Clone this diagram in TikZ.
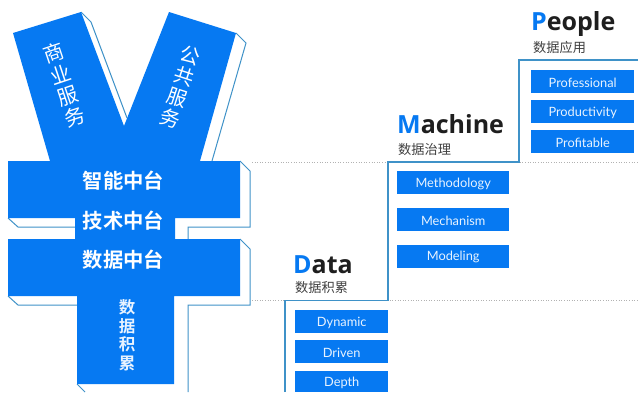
\documentclass[tikz,border=0pt]{standalone}
\usepackage{fontspec}
\setmainfont{Lato}
\newfontfamily\cjk{Noto Sans CJK SC}
\newfontfamily\cjkb{Noto Sans CJK SC Bold}
\newfontfamily\headf{Open Sans Bold}
\definecolor{ybl}{HTML}{0679F2}
\definecolor{edgebl}{HTML}{3F92C8}
\definecolor{inkk}{HTML}{1E1E1E}
\definecolor{txtw}{HTML}{E8F3FF}
\tikzset{
 yfill/.style={fill=ybl,draw=none},
 side/.style={draw=edgebl,line width=1pt,line join=miter},
 stair/.style={draw=edgebl,line width=1.2pt},
 dots/.style={draw=gray!60,line width=0.6pt,dotted},
 itembox/.style={fill=ybl,draw=none,anchor=north west,inner sep=0pt},
 itemtext/.style={text=txtw,inner sep=0pt,font=\fontsize{12.8}{14}\selectfont},
 headline/.style={anchor=base west,inner sep=0pt,text=inkk,font=\headf\fontsize{25}{27}\selectfont},
 subhead/.style={anchor=west,inner sep=0pt,text=inkk!85,font=\cjk\fontsize{13.2}{15}\selectfont},
 barlabel/.style={text=white,inner sep=0pt,font=\cjkb\fontsize{20.3}{22}\selectfont},
 armlabel/.style={text=white,inner sep=0pt,align=center,font=\cjk\fontsize{20.5}{22.5}\selectfont},
 stemlabel/.style={text=txtw,inner sep=0pt,align=center,font=\cjkb\fontsize{16.5}{18.5}\selectfont},
}
\newcommand{\itembx}[6]{\node[itembox,minimum width=#3pt,minimum height=#4pt] (#5) at (#1,#2) {};
 \node[itemtext,yshift=-0.8pt] (#5t) at (#5.center) {#6};}
\begin{document}
\begin{tikzpicture}[x=1pt,y=-1pt]
\useasboundingbox[fill=white] (0,0) rectangle (638,392);
% dotted guides
\draw[dots] (252,162) -- (638,162);
\draw[dots] (252,300.5) -- (638,300.5);
% stair
\draw[stair] (285,392) -- (285,300.5) -- (388,300.5) -- (388,162) -- (519,162) -- (519,60) -- (638,60);
% yen shadows
\draw[side] (81,12) -- (91,22) -- (127,118);
\draw[side] (236,33) -- (246,43) -- (212,161);
\draw[side] (240,161) -- (250,171) -- (250,227) -- (188,227) -- (188,239);
\draw[side] (8,218) -- (18,227) -- (75,227);
\draw[side] (240,239) -- (250,249) -- (250,305) -- (188,305) -- (188,392);
\draw[side] (8,296) -- (18,305) -- (77,305);
\draw[side] (77,384) -- (85,392);
% yen
\fill[yfill] (13,33) -- (81,12) -- (124,126) -- (169,12) -- (236,33) -- (200,161) -- (240,161) -- (240,218) -- (175,218) -- (175,239) -- (240,239) -- (240,296) -- (174,296) -- (174,384) -- (77,384) -- (77,296) -- (8,296) -- (8,239) -- (75,239) -- (75,218) -- (8,218) -- (8,161) -- (50,161) -- cycle;
% labels
\node[armlabel,rotate=18.5] (a1) at (64.5,85) {商\\业\\服\\务};
\node[armlabel,rotate=-18,font=\cjk\fontsize{20}{21.8}\selectfont] (a2) at (180.5,87) {公\\共\\服\\务};
\node[barlabel] (b1) at (123.5,181) {智能中台};
\node[barlabel] (b2) at (123.5,221) {技术中台};
\node[barlabel] (b3) at (123.5,260) {数据中台};
\node[stemlabel] (b4) at (127,335) {数\\据\\积\\累};
% headings
\node[headline] (hp) at (531,30) {{\color{ybl}P}eople};
\node[subhead] (sp) at (533,47) {数据应用};
\node[headline] (hm) at (397,133) {{\color{ybl}M}achine};
\node[subhead] (sm) at (398,149) {数据治理};
\node[headline] (hd) at (293,273) {{\color{ybl}D}ata};
\node[subhead] (sd) at (295,287) {数据积累};
% boxes
\itembx{531}{70}{103}{23}{p1}{Professional}
\itembx{531}{100}{103}{23}{p2}{Productivity}
\itembx{531}{130}{103}{23}{p3}{Profitable}
\itembx{397}{171}{112}{23}{m1}{Methodology}
\itembx{397}{208}{112}{23}{m2}{Mechanism}
\itembx{397}{245}{112}{22.5}{m3}{Modeling}
\itembx{295}{310}{93}{23}{d1}{Dynamic}
\itembx{295}{340}{93}{23}{d2}{Driven}
\itembx{295}{371}{93}{21}{d3}{Depth}
\end{tikzpicture}
\end{document}
